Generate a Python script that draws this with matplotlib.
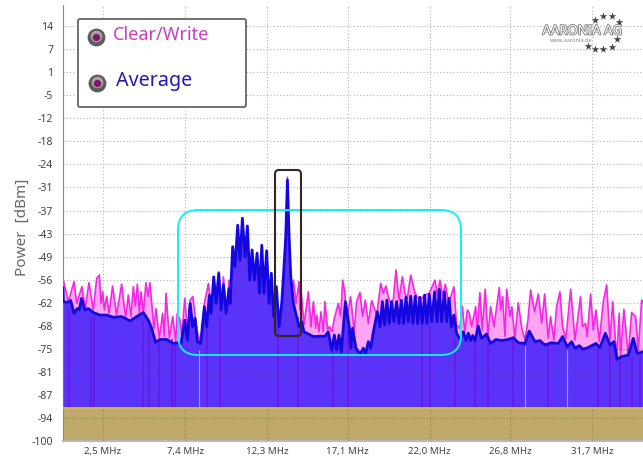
import matplotlib
matplotlib.use("Agg")
import matplotlib.pyplot as plt
import matplotlib.patheffects as pe
from matplotlib.patches import FancyBboxPatch

# values
avg_mhz = [0.11, 0.13, 0.37, 0.57, 0.77, 0.96, 1.08, 1.22, 1.42, 1.62, 1.92, 2.32, 2.72, 3.11, 3.61, 4.11, 4.51, 4.91, 5.2, 5.4, 5.64, 5.9, 6.3, 6.7, 6.93,
           7.16, 7.38, 7.54, 7.7, 7.86, 8.0, 8.13, 8.33, 8.55, 8.69, 8.85, 8.95, 9.11, 9.25, 9.41, 9.55, 9.69, 9.85, 10.03, 10.09, 10.24, 10.38, 10.54, 10.68, 10.82, 10.98, 11.12, 11.26, 11.4, 11.54, 11.7, 11.84, 11.98, 12.11, 12.27, 12.41, 12.55, 12.69, 12.85, 13.01, 13.17, 13.27, 13.41, 13.51, 13.61, 13.71, 13.87, 14.03, 14.2, 14.36,
           14.5, 14.76, 15.06, 15.45, 15.75, 15.95, 16.15, 16.31, 16.45, 16.59, 16.73, 16.97, 17.2, 17.3, 17.4, 17.6, 17.74, 17.88, 18.04, 18.18, 18.34, 18.48, 18.64, 18.88, 19.04, 19.18, 19.31, 19.45, 19.59, 19.73, 19.87, 20.03, 20.17, 20.31, 20.45, 20.59, 20.73, 20.87, 21.0, 21.14, 21.28, 21.42, 21.56, 21.7, 21.84, 21.98, 22.12, 22.3, 22.44, 22.58, 22.72, 22.88, 23.02, 23.16, 23.3, 23.45, 23.61, 23.81,
           24.01, 24.17, 24.31, 24.45, 24.57, 24.71, 24.9, 25.1, 25.4, 25.64, 25.96, 26.3, 26.7, 27.0, 27.3, 27.69, 27.95, 28.29, 28.59, 28.88, 29.28, 29.68, 29.94, 30.22, 30.48, 30.68, 30.93, 31.17, 31.47, 31.93, 32.17, 32.49, 32.77, 33.0, 33.2, 33.46, 33.86, 34.16, 34.4, 34.74]
avg_dbm = [-58.0, -61.7, -61.9, -61.4, -64.9, -63.6, -64, -60.8, -64, -63.6, -64.7, -65.4, -65.4, -66, -65.8, -67, -65.8, -64.7, -66.8, -69, -72.9, -72.1, -72.1, -73.2, -73,
           -73.2, -66.8, -72.3, -62.2, -68.6, -66.3, -72.7, -73.2, -63.1, -68.6, -59.9, -64.9, -54.9, -62.2, -53.9, -64, -57.1, -64.9, -58.1, -62.2, -46.6, -52.1, -40.7, -50.3, -38.8, -49.4, -40.9, -55.8, -47.5, -55.8, -48.4, -59.4, -46.2, -59.4, -47.7, -62.2, -53.9, -65.8, -57.6, -68.6, -62.2, -54.9, -43.9, -28.3, -43.9, -54.9, -62.2, -65.4, -68.6, -67.2,
           -70, -70.6, -71.3, -71.2, -71.2, -70, -75, -70.9, -75, -70.9, -75.5, -61.7, -68.6, -74.5, -69, -74.5, -75.5, -75.9, -74.5, -75.9, -72.7, -74.5, -70, -64.5, -68.6, -61.7, -68.1, -61.3, -67.7, -61.7, -67.2, -61.7, -67.7, -61.3, -67.7, -60.5, -67.2, -60.2, -67.7, -60.2, -67.7, -60.5, -67.7, -59.9, -67.7, -59.7, -67.2, -59, -67.2, -58.3, -67.2, -59, -67.2, -60.8, -68.6, -65.4, -70.4, -72,
           -70, -72.3, -70.4, -72.4, -71, -72.5, -68.4, -71.8, -70.6, -73.2, -72.1, -72.4, -72.1, -71.6, -73, -73.2, -69.8, -72.7, -72.4, -73.6, -73, -73.2, -71.3, -74.1, -72.7, -74.5, -73.8, -74.8, -74.3, -73.2, -74.3, -70.4, -73.6, -72.7, -77.6, -76.8, -76.4, -71.8, -75.9, -75.5]

cw_mhz = [0.11, 0.13, 0.43, 0.77, 0.93, 1.24, 1.44, 1.66, 1.92, 2.12, 2.28, 2.38, 2.48, 2.58, 2.72, 2.86, 3.07, 3.31, 3.61, 3.85, 4.01, 4.17, 4.31, 4.43, 4.55, 4.67, 4.77, 4.91, 5.06, 5.18, 5.3, 5.54, 5.66, 5.86, 6.06, 6.16, 6.26, 6.46, 6.66, 6.84, 6.93,
          7.1, 7.2, 7.38, 7.54, 7.7, 7.86, 8.1, 8.33, 8.55, 8.79, 8.99, 9.11, 9.25, 9.41, 9.55, 9.69, 9.85, 10.03, 10.12, 10.3, 13.3, 13.4, 13.51, 13.62, 13.75, 13.87, 14.03, 14.2, 14.26,
          14.32, 14.5, 14.76, 14.92, 15.06, 15.2, 15.26, 15.39, 15.51, 15.65, 15.75, 15.91, 16.01, 16.17, 16.31, 16.55, 16.69, 16.81, 16.93, 17.05, 17.28, 17.5, 17.64, 17.84, 18.0, 18.16, 18.34, 18.54, 18.84, 19.08, 19.24, 19.39, 19.53, 19.67, 19.83, 19.99, 20.17, 20.37, 20.53, 20.67, 20.87, 21.13, 21.42, 21.7, 21.98, 22.32, 22.46, 22.62, 22.78, 22.94, 23.14, 23.45, 23.61, 23.8, 23.95, 24.1, 24.25,
          24.37, 24.51, 24.75, 24.84, 25.0, 25.14, 25.32, 25.48, 25.64, 25.84, 26.16, 26.24, 26.36, 26.5, 26.6, 26.8, 26.91, 27.09, 27.29, 27.49, 27.69, 27.87, 28.03, 28.27, 28.49, 28.69, 28.87, 29.08, 29.22, 29.42, 29.58, 29.78, 29.94, 30.14, 30.42, 30.68, 31.01, 31.13, 31.31, 31.41, 31.61, 31.77, 31.93, 32.13, 32.37, 32.57, 32.77, 32.93, 33.17, 33.32, 33.4, 33.6, 33.86, 34.06, 34.3, 34.46, 34.66, 34.74]
cw_dbm = [-56.5, -55.8, -61.7, -56.2, -62.2, -57.6, -63.6, -56.5, -64, -55.3, -54.4, -62.2, -59, -64, -60.2, -64.9, -57.4, -65.4, -56.9, -66.3, -59.9, -65.8, -57.6, -62.9, -56.9, -64.9, -59, -64.9, -56.5, -60.3, -56.5, -69, -63.6, -71.8, -64.9, -71.3, -59.4, -71.8, -65.8, -72.7, -64.9,
          -66.8, -71.3, -60.8, -69.5, -61.3, -60.3, -69.5, -73.2, -62.2, -56.7, -64, -54.9, -61.7, -53.5, -63, -54.9, -64, -55.8, -61.3, -70, -66, -45, -27.5, -45, -60, -55.8, -62.2, -56.2, -64,
          -58.5, -68, -59, -68.6, -61.7, -69, -65.4, -70, -64.5, -70, -61.7, -69.5, -68.6, -70, -66.3, -62.2, -65.8, -55.8, -59, -66.8, -60.3, -70, -61.7, -59.2, -65.8, -61.3, -67.7, -61.4, -65.4, -56.7, -59.4, -57.4, -60.3, -62.2, -61.3, -53, -61.3, -54.9, -59.4, -60.8, -54.4, -59.4, -61.3, -59.9, -59.4, -55.8, -59.9, -55.8, -60.3, -56.9, -62.2, -57.6, -68.1, -69, -63, -70, -64,
          -64.9, -68.6, -63.1, -70.4, -59.2, -69.5, -58.3, -71.3, -63.1, -68.6, -57.8, -64, -60.3, -71.3, -58.3, -65.8, -63.1, -71.8, -62, -68.6, -72.3, -66.8, -58.5, -64.5, -59.6, -67.7, -59.6, -71.8, -65.8, -72.3, -63.1, -59, -68.6, -71.8, -58.3, -72.3, -60.3, -68.6, -67.7, -71.3, -59.6, -69.5, -64, -72.7, -61.7, -57.1, -72.3, -61.7, -77.3, -64.9, -76.8, -63.8, -76.4, -64.7, -65.8, -75, -61.3, -62]

dip_mhz = [0.49, 1.76, 1.98, 4.91, 5.27, 5.86, 6.6, 6.8, 8.69, 9.48, 12.97, 14.12, 16.22, 17.11, 21.53, 22.03, 23.52, 24.71, 25.51, 27.0, 29.09, 32.08, 32.77, 33.37, 34.07, 34.56]
dip_top = [-64, -66, -66, -67, -69, -72, -72, -73, -68, -66, -68, -66, -72, -70, -68, -68, -72, -72, -73, -72, -73, -74, -74, -78, -77, -76]
pale_mhz = [8.25, 27.7, 30.2]
pale_top = [-75, -74, -75]

y_ticks = [14, 7.67, 1.33, -5, -11.33, -17.67, -24, -30.33, -36.67, -43, -49.33, -55.67, -62, -68.33, -74.67, -81, -87.33, -93.67, -100]
y_labels = ["14", "7", "1", "-5", "-12", "-18", "-24", "-31", "-37", "-43", "-49", "-56", "-62", "-68", "-75", "-81", "-87", "-94", "-100"]
x_ticks = [2.5, 7.4, 12.3, 17.1, 22.0, 26.8, 31.7]
x_labels = ["2,5 MHz", "7,4 MHz", "12,3 MHz", "17,1 MHz", "22,0 MHz", "26,8 MHz", "31,7 MHz"]
floor_dbm = -91

plt.rcParams["font.family"] = ["Noto Sans", "DejaVu Sans"]
W, H = 643, 459
fig = plt.figure(figsize=(W / 100, H / 100), dpi=100)
ax = fig.add_axes([63 / W, 1 - 441 / H, 580 / W, 436 / H])
ax.set_xlim(0.11, 34.74)
ax.set_ylim(-100, 19.8)

ax.fill_between(cw_mhz, cw_dbm, floor_dbm, color="#ffa4f2", lw=0, zorder=2)
ax.plot(cw_mhz, cw_dbm, color="#f428e4", lw=1.2, zorder=2.2)
ax.fill_between(avg_mhz, avg_dbm, floor_dbm, color="#5a32f8", lw=0, zorder=3)
ax.plot(avg_mhz, avg_dbm, color="#1408e0", lw=2.0, zorder=3.2)
ax.vlines(dip_mhz, floor_dbm, dip_top, color="#6a14e4", lw=1.1, zorder=3.1)
ax.vlines(pale_mhz, floor_dbm, pale_top, color="#8fa8f4", lw=0.8, zorder=3.1)
ax.axhspan(-100, floor_dbm, color="#bfaa6b", lw=0, zorder=2.5)
ax.axhline(floor_dbm, color="#e8cc30", lw=1.2, zorder=3.5)

ax.grid(True, color="#b4b4b4", ls=(0, (1, 2)), lw=0.8)
for line in ax.get_xgridlines() + ax.get_ygridlines():
    line.set_zorder(1.5)
# the grid stays visible across the tan band and the fill
ax.hlines([-93.67], 0.11, 34.74, color="#8f8258", ls=(0, (1, 2)), lw=0.8, zorder=3.6)
ax.vlines(x_ticks, -100, floor_dbm, color="#8f8258", ls=(0, (1, 2)), lw=0.8, zorder=3.6)
ax.hlines([-87.33, -81, -74.67], 0.11, 34.74, color="#4a3ac0", ls=(0, (1, 2)), lw=0.6, zorder=3.15)

ax.set_yticks(y_ticks, y_labels, fontsize=7.5, color="#444444")
ax.set_xticks(x_ticks, x_labels, fontsize=7, color="#444444")
ax.tick_params(axis="both", length=0)
ax.tick_params(axis="y", pad=7)
ax.tick_params(axis="x", pad=4.5)
for s in ["top", "right"]:
    ax.spines[s].set_visible(False)
ax.spines["left"].set_color("#8a8a8a")
ax.spines["bottom"].set_color("#b8b8b8")
ax.spines["bottom"].set_linewidth(1.5)

# overlay in image pixels for the hand drawn boxes, legend and logo
ov = fig.add_axes([0, 0, 1, 1])
ov.set_xlim(0, W)
ov.set_ylim(H, 0)
ov.axis("off")
ov.patch.set_alpha(0)

ov.text(22, 227, "Power  [dBm]", fontsize=11, color="#666666", rotation=90, ha="center", va="center")
ov.add_patch(FancyBboxPatch((178, 210), 283, 145, boxstyle="round,pad=0,rounding_size=20", fc="none", ec="#10f0f6", lw=1.4))
ov.add_patch(FancyBboxPatch((275, 170), 26, 166, boxstyle="round,pad=0,rounding_size=4", fc="none", ec="#33261e", lw=1.5))
ov.add_patch(FancyBboxPatch((78, 19), 168, 88, boxstyle="round,pad=0,rounding_size=2", fc="white", ec="#666666", lw=1.3))

for cx, cy in [(96, 37), (97, 83)]:
    ov.scatter([cx], [cy], s=165, color="#5c5c5c", lw=0, zorder=5)
    ov.scatter([cx], [cy - 1], s=70, color="#b0a0a8", lw=0, zorder=6)
    ov.scatter([cx], [cy], s=28, color="#7c1c68", lw=0, zorder=7)
ov.text(113, 35, "Clear/Write", fontsize=13, color="#c93cc8", va="center", ha="left")
ov.text(116, 81, "Average", fontsize=14.2, color="#2418b4", va="center", ha="left")

# logo
star_x = [595, 603, 612, 619, 617, 612, 603, 595, 588]
star_y = [20, 16, 16, 22, 39, 47, 49, 49, 46]
ov.scatter(star_x, star_y, marker="*", s=34, color="#444444", lw=0, zorder=5)
ov.text(582, 31, "AARONIA AG", fontsize=9.5, fontweight="bold", color="white", ha="center", va="center", zorder=6,
        path_effects=[pe.withStroke(linewidth=1.2, foreground="#777777")])
ov.text(571, 40, "www.aaronia.de", fontsize=4, color="#888888", ha="center", va="center", zorder=6)

fig.savefig("out.png", dpi=100)
